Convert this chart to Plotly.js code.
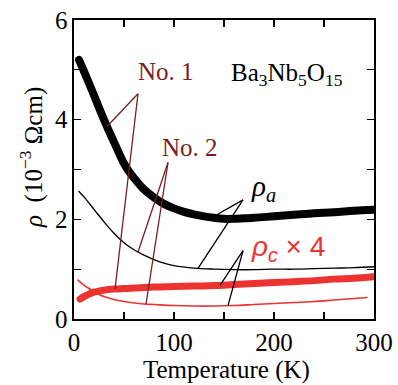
<!DOCTYPE html>
<html>
<head>
<meta charset="utf-8">
<script src="https://cdn.plot.ly/plotly-3.0.1.min.js"></script>
<style>
  html, body { margin: 0; padding: 0; background: #fff; }
  #chart { width: 398px; height: 385px; }
  .js-line { stroke-linecap: round; stroke-linejoin: round; }
</style>
</head>
<body>
<div id="chart"></div>
<script>
// Ba3Nb5O15 resistivity vs temperature, samples No. 1 (thick) and No. 2 (thin)
const tempA1 = [5, 10, 15, 20, 25, 30, 35, 40, 45, 50, 55, 60, 70, 80, 90, 100, 110, 120, 130, 140, 150, 160, 170, 180, 200, 220, 240, 260, 280, 300];
const rhoA1  = [5.2, 4.97, 4.73, 4.49, 4.24, 4.0, 3.77, 3.55, 3.33, 3.12, 2.96, 2.83, 2.6, 2.44, 2.31, 2.22, 2.15, 2.10, 2.06, 2.03, 2.01, 2.01, 2.02, 2.03, 2.06, 2.09, 2.12, 2.14, 2.17, 2.19];

const tempA2 = [5, 10, 20, 30, 40, 50, 60, 70, 80, 90, 100, 120, 140, 160, 180, 200, 220, 240, 260, 280, 300];
const rhoA2  = [2.56, 2.45, 2.2, 1.95, 1.72, 1.53, 1.39, 1.28, 1.19, 1.12, 1.07, 1.02, 1.0, 0.99, 0.99, 1.0, 1.0, 1.01, 1.02, 1.03, 1.05];

// c-axis data are plotted multiplied by 4
const tempC1 = [6, 10, 15, 20, 25, 30, 40, 50, 60, 80, 100, 120, 140, 160, 180, 200, 220, 240, 260, 280, 300];
const rhoC1x4 = [0.40, 0.45, 0.50, 0.54, 0.56, 0.58, 0.60, 0.61, 0.62, 0.64, 0.65, 0.66, 0.67, 0.69, 0.71, 0.73, 0.75, 0.77, 0.80, 0.82, 0.85];

const tempC2 = [4, 10, 20, 26, 30, 40, 50, 60, 70, 80, 100, 120, 140, 160, 180, 200, 220, 240, 260, 280, 293];
const rhoC2x4 = [0.78, 0.68, 0.55, 0.48, 0.45, 0.39, 0.35, 0.32, 0.30, 0.29, 0.27, 0.26, 0.26, 0.27, 0.29, 0.31, 0.33, 0.35, 0.38, 0.41, 0.43];

const xTickVals = [0, 100, 200, 300];
const xTickText = ['0', '100', '200', '300'];
const xMinorVals = [50, 150, 250];
const yTickVals = [0, 2, 4, 6];
const yTickText = ['0', '2', '4', '6'];
const yMinorVals = [1, 3, 5];

const BLACK = '#000000';
const RED = '#ec3332';
const DARKRED = '#7a1d22';
const SERIF = 'Liberation Serif';
const SANS = 'Liberation Sans';

// value of a curve at temperature t (linear between samples), for leader-line ends
function at(ts, vs, t) {
  for (let i = 1; i < ts.length; i++) {
    if (t <= ts[i]) {
      const f = (t - ts[i - 1]) / (ts[i] - ts[i - 1]);
      return vs[i - 1] + f * (vs[i] - vs[i - 1]);
    }
  }
  return vs[vs.length - 1];
}

const traces = [
  { x: tempA1, y: rhoA1, mode: 'lines', line: { color: BLACK, width: 8, shape: 'spline' } },
  { x: tempA2, y: rhoA2, mode: 'lines', line: { color: BLACK, width: 1.4, shape: 'spline' } },
  { x: tempC1, y: rhoC1x4, mode: 'lines', line: { color: RED, width: 7, shape: 'spline' } },
  { x: tempC2, y: rhoC2x4, mode: 'lines', line: { color: RED, width: 1.6, shape: 'spline' } }
];

function leader(x0, y0, x1, y1, color) {
  return { type: 'line', xref: 'x', yref: 'y', x0: x0, y0: y0, x1: x1, y1: y1,
           line: { color: color, width: 1.3 } };
}

const shapes = [
  // No. 1
  leader(64, 4.52, 33, at(tempA1, rhoA1, 33), DARKRED),
  leader(64, 4.52, 41, at(tempC1, rhoC1x4, 41), DARKRED),
  // No. 2
  leader(94, 3.14, 64, at(tempA2, rhoA2, 64), DARKRED),
  leader(94, 3.14, 72, at(tempC2, rhoC2x4, 72), DARKRED),
  // rho_a
  leader(169, 2.39, 138, at(tempA1, rhoA1, 138), BLACK),
  leader(169, 2.39, 124, at(tempA2, rhoA2, 124), BLACK),
  // rho_c
  leader(169, 1.37, 146, at(tempC1, rhoC1x4, 146), BLACK),
  leader(169, 1.37, 154, at(tempC2, rhoC2x4, 154), BLACK)
];

const annotations = [
  { text: 'No. 1', x: 92, y: 4.96, xref: 'x', yref: 'y', showarrow: false,
    font: { family: SERIF, size: 25, color: DARKRED } },
  { text: 'No. 2', x: 116, y: 3.45, xref: 'x', yref: 'y', showarrow: false,
    font: { family: SERIF, size: 25, color: DARKRED } },
  { text: 'Ba<sub>3</sub>Nb<sub>5</sub>O<sub>15</sub>', x: 213, y: 4.9, xref: 'x', yref: 'y', showarrow: false,
    font: { family: SERIF, size: 25, color: BLACK } },
  { text: '<i>ρ<sub>a</sub></i>', x: 175, y: 2.62, xref: 'x', yref: 'y', xanchor: 'left', showarrow: false,
    font: { family: SERIF, size: 29, color: BLACK } },
  { text: '<i>ρ<sub>c</sub></i> × 4', x: 175, y: 1.42, xref: 'x', yref: 'y', xanchor: 'left', showarrow: false,
    font: { family: SANS, size: 28, color: RED } },
  // axis titles
  { text: 'Temperature (K)', x: 0.508, y: -0.171, xref: 'paper', yref: 'paper',
    xanchor: 'center', yanchor: 'middle', showarrow: false,
    font: { family: SERIF, size: 25, color: BLACK } },
  { text: '<i>ρ</i>  (10<sup>−3</sup> Ωcm)', x: -0.14, y: 0.542, xref: 'paper', yref: 'paper',
    xanchor: 'center', yanchor: 'middle', showarrow: false,
    textangle: -90, font: { family: SERIF, size: 25, color: BLACK } }
];

function axis(range, vals, text, minorVals) {
  return {
    range: range, tickmode: 'array', tickvals: vals, ticktext: text,
    showgrid: false, zeroline: false, showline: true, linecolor: BLACK, linewidth: 1.6,
    mirror: 'ticks', ticks: 'inside', ticklen: 7, tickwidth: 1.3, tickcolor: BLACK,
    tickfont: { family: SERIF, size: 25, color: BLACK },
    minor: { tickmode: 'array', tickvals: minorVals, ticks: 'inside', ticklen: 7,
             tickwidth: 1.3, tickcolor: BLACK, showgrid: false }
  };
}

const layout = {
  width: 398, height: 385,
  margin: { l: 74, r: 24, t: 20, b: 66 },
  font: { family: SERIF, size: 25, color: BLACK },
  paper_bgcolor: '#ffffff', plot_bgcolor: '#ffffff',
  showlegend: false,
  xaxis: axis([0, 300], xTickVals, xTickText, xMinorVals),
  yaxis: axis([0, 6], yTickVals, yTickText, yMinorVals),
  shapes: shapes,
  annotations: annotations
};

Plotly.newPlot('chart', traces, layout, { staticPlot: true, displayModeBar: false });
</script>
</body>
</html>
